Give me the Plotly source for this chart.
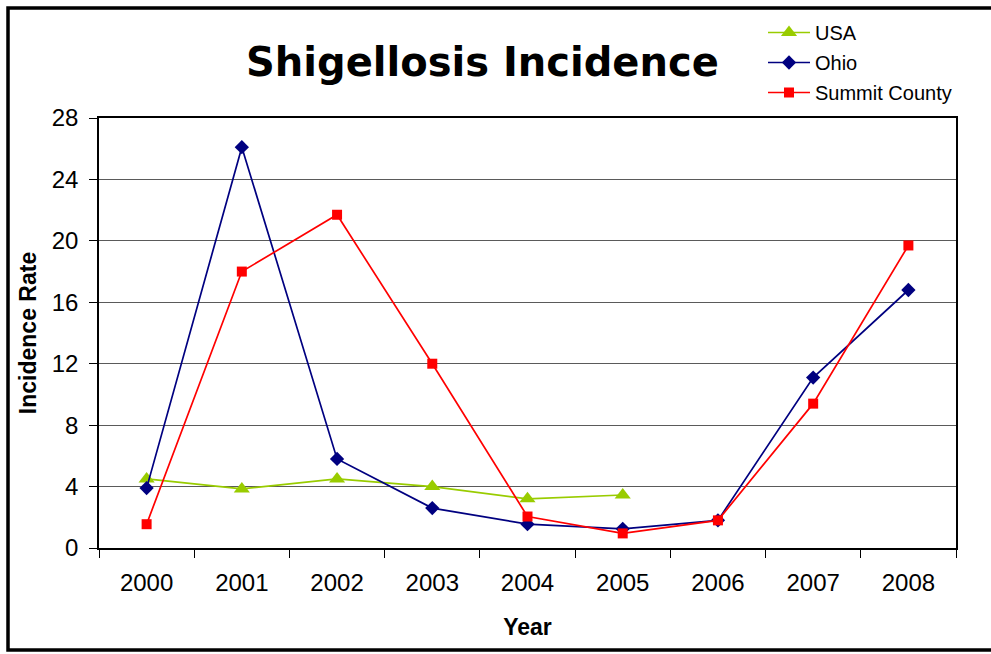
import plotly.graph_objects as go

# datos
anios = ["2000", "2001", "2002", "2003", "2004", "2005", "2006", "2007", "2008"]
usa = [4.5, 3.85, 4.5, 4.0, 3.2, 3.45, None, None, None]
ohio = [3.9, 26.1, 5.8, 2.6, 1.55, 1.25, 1.8, 11.1, 16.8]
summit = [1.55, 18.0, 21.7, 12.0, 2.05, 0.95, 1.8, 9.4, 19.7]
ticks_y = [0, 4, 8, 12, 16, 20, 24, 28]

ANCHO = 991
ALTO = 654
M_IZQ, M_DER, M_SUP, M_INF = 99, 35, 118, 106

area_w = ANCHO - M_IZQ - M_DER
area_h = ALTO - M_SUP - M_INF


def px_x(x):
    return (x - M_IZQ) / area_w


def px_y(y):
    return (ALTO - M_INF - y) / area_h


fig = go.Figure()
fig.add_trace(
    go.Scatter(
        x=anios, y=usa, name="USA", mode="lines+markers",
        line=dict(color="#99CC00", width=1.7),
        marker=dict(symbol="triangle-up", size=14, color="#99CC00"),
        legendgroup="a",
    )
)
fig.add_trace(
    go.Scatter(
        x=anios, y=ohio, name="Ohio", mode="lines+markers",
        line=dict(color="#000080", width=1.7),
        marker=dict(symbol="diamond", size=11, color="#000080"),
        legendgroup="b",
    )
)
fig.add_trace(
    go.Scatter(
        x=anios, y=summit, name="Summit County", mode="lines+markers",
        line=dict(color="#FF0000", width=1.7),
        marker=dict(symbol="square", size=10, color="#FF0000"),
        legendgroup="c",
    )
)

fig.update_xaxes(
    type="category", range=[-0.5, len(anios) - 0.5],
    showline=True, linecolor="black", linewidth=1.5, mirror=True,
    ticks="outside", tickson="boundaries", ticklen=8, tickcolor="black",
    ticklabelstandoff=12,
    tickfont=dict(family="Liberation Sans", size=24, color="black"),
    title=dict(text="<b>Year</b>", font=dict(family="Liberation Sans", size=23, color="black"), standoff=24),
    showgrid=False,
)
fig.update_yaxes(
    range=[0, 28], tickvals=ticks_y,
    showline=True, linecolor="black", linewidth=1.5, mirror=True,
    ticks="outside", ticklen=8, tickcolor="black",
    ticklabelstandoff=6,
    tickfont=dict(family="Liberation Sans", size=24, color="black"),
    title=dict(text="<b>Incidence Rate</b>", font=dict(family="Liberation Sans", size=23, color="black"), standoff=9),
    showgrid=True, gridcolor="#5a5a5a", gridwidth=1.2,
    zeroline=False,
)

fig.add_shape(
    type="rect", xref="paper", yref="paper",
    x0=px_x(8), x1=px_x(998), y0=px_y(650), y1=px_y(8),
    line=dict(color="black", width=3.5), layer="below",
)
fig.add_annotation(
    text="<b>Shigellosis Incidence</b>", xref="paper", yref="paper",
    x=px_x(482), y=px_y(62), xanchor="center", yanchor="middle", showarrow=False,
    font=dict(family="DejaVu Sans", size=40, color="black"),
)

fig.update_layout(
    width=ANCHO, height=ALTO,
    margin=dict(l=M_IZQ, r=M_DER, t=M_SUP, b=M_INF),
    plot_bgcolor="white", paper_bgcolor="white",
    legend=dict(
        x=px_x(763), y=px_y(13), xanchor="left", yanchor="top",
        font=dict(family="Liberation Sans", size=20, color="black"),
        itemwidth=42,
        tracegroupgap=1, bgcolor="rgba(0,0,0,0)",
    ),
)

fig.write_html(
    "out.html",
    config={"displayModeBar": False},
    post_script="document.body.style.margin='0px';",
)
